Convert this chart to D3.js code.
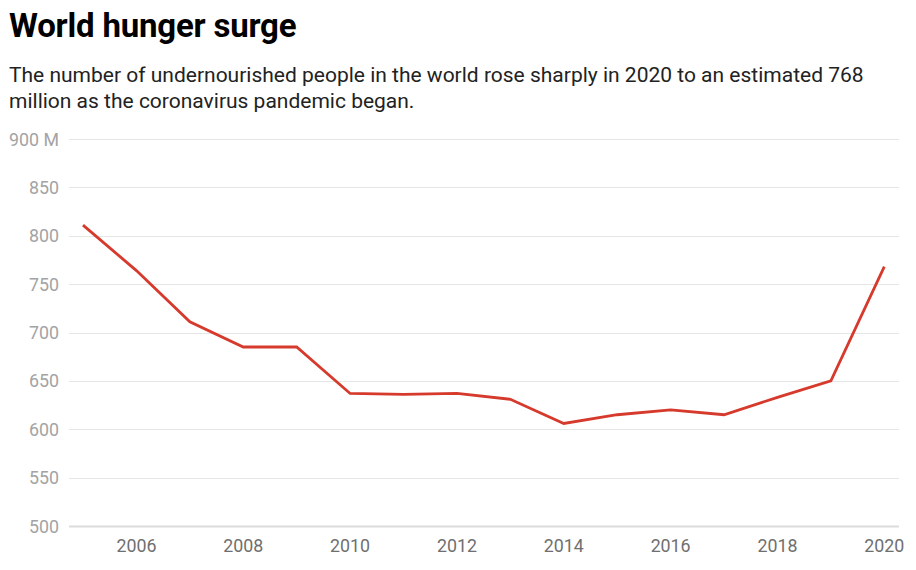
<!DOCTYPE html>
<html>
<head>
<meta charset="utf-8">
<script src="https://cdn.jsdelivr.net/npm/d3@7"></script>
<style>
  body { margin: 0; background: #fff; font-family: Roboto, sans-serif; }
  #chart { position: relative; width: 916px; height: 570px; }
  h1 { position: absolute; left: 9px; top: 7px; margin: 0; font-size: 33px; line-height: 38px; font-weight: 700; color: #000; letter-spacing: -0.2px; }
  p.sub { position: absolute; left: 9px; top: 62px; margin: 0; width: 885px; font-size: 21px; line-height: 26px; color: #222; }
</style>
</head>
<body>
<div id="chart">
  <h1>World hunger surge</h1>
  <p class="sub">The number of undernourished people in the world rose sharply in 2020 to an estimated 768 million as the coronavirus pandemic began.</p>
</div>
<script>
const years = [2005, 2006, 2007, 2008, 2009, 2010, 2011, 2012, 2013, 2014, 2015, 2016, 2017, 2018, 2019, 2020];
const undernourished = [811, 764, 711, 685, 685, 637, 636, 637, 631, 606, 615, 620, 615, 633, 650, 768];
const yTicks = [500, 550, 600, 650, 700, 750, 800, 850, 900];
const xTicks = [2006, 2008, 2010, 2012, 2014, 2016, 2018, 2020];

const width = 916;
const height = 570;
const gridLeft = 69;
const gridRight = 899;

const x = d3.scaleLinear().domain([2005, 2020]).range([83, 884.3]);
const y = d3.scaleLinear().domain([500, 900]).range([526, 139]);

const svg = d3
  .select("#chart")
  .append("svg")
  .attr("width", width)
  .attr("height", height)
  .style("position", "absolute")
  .style("left", 0)
  .style("top", 0);

// horizontal grid
svg
  .append("g")
  .selectAll("line")
  .data(yTicks)
  .join("line")
  .attr("x1", gridLeft)
  .attr("x2", gridRight)
  .attr("y1", (d) => Math.round(y(d)) + 0.5)
  .attr("y2", (d) => Math.round(y(d)) + 0.5)
  .attr("stroke", (d) => (d === 500 ? "#dcdcdc" : "#e6e6e6"))
  .attr("stroke-width", (d) => (d === 500 ? 2 : 1));

// y labels
svg
  .append("g")
  .attr("font-family", "Roboto, sans-serif")
  .attr("font-size", 17.8)
  .attr("fill", "#a3a3a3")
  .attr("text-anchor", "end")
  .selectAll("text")
  .data(yTicks)
  .join("text")
  .attr("x", 59)
  .attr("y", (d) => y(d) + 6.5)
  .text((d) => (d === 900 ? "900 M" : d));

// x labels
svg
  .append("g")
  .attr("font-family", "Roboto, sans-serif")
  .attr("font-size", 17.8)
  .attr("fill", "#6f6f6f")
  .attr("text-anchor", "middle")
  .selectAll("text")
  .data(xTicks)
  .join("text")
  .attr("x", (d) => x(d))
  .attr("y", 552)
  .text((d) => d);

const line = d3
  .line()
  .x((d, i) => x(years[i]))
  .y((d) => y(d));

svg
  .append("path")
  .datum(undernourished)
  .attr("fill", "none")
  .attr("stroke", "#d63a2c")
  .attr("stroke-width", 2.8)
  .attr("stroke-linejoin", "miter")
  .attr("d", line);
</script>
</body>
</html>
